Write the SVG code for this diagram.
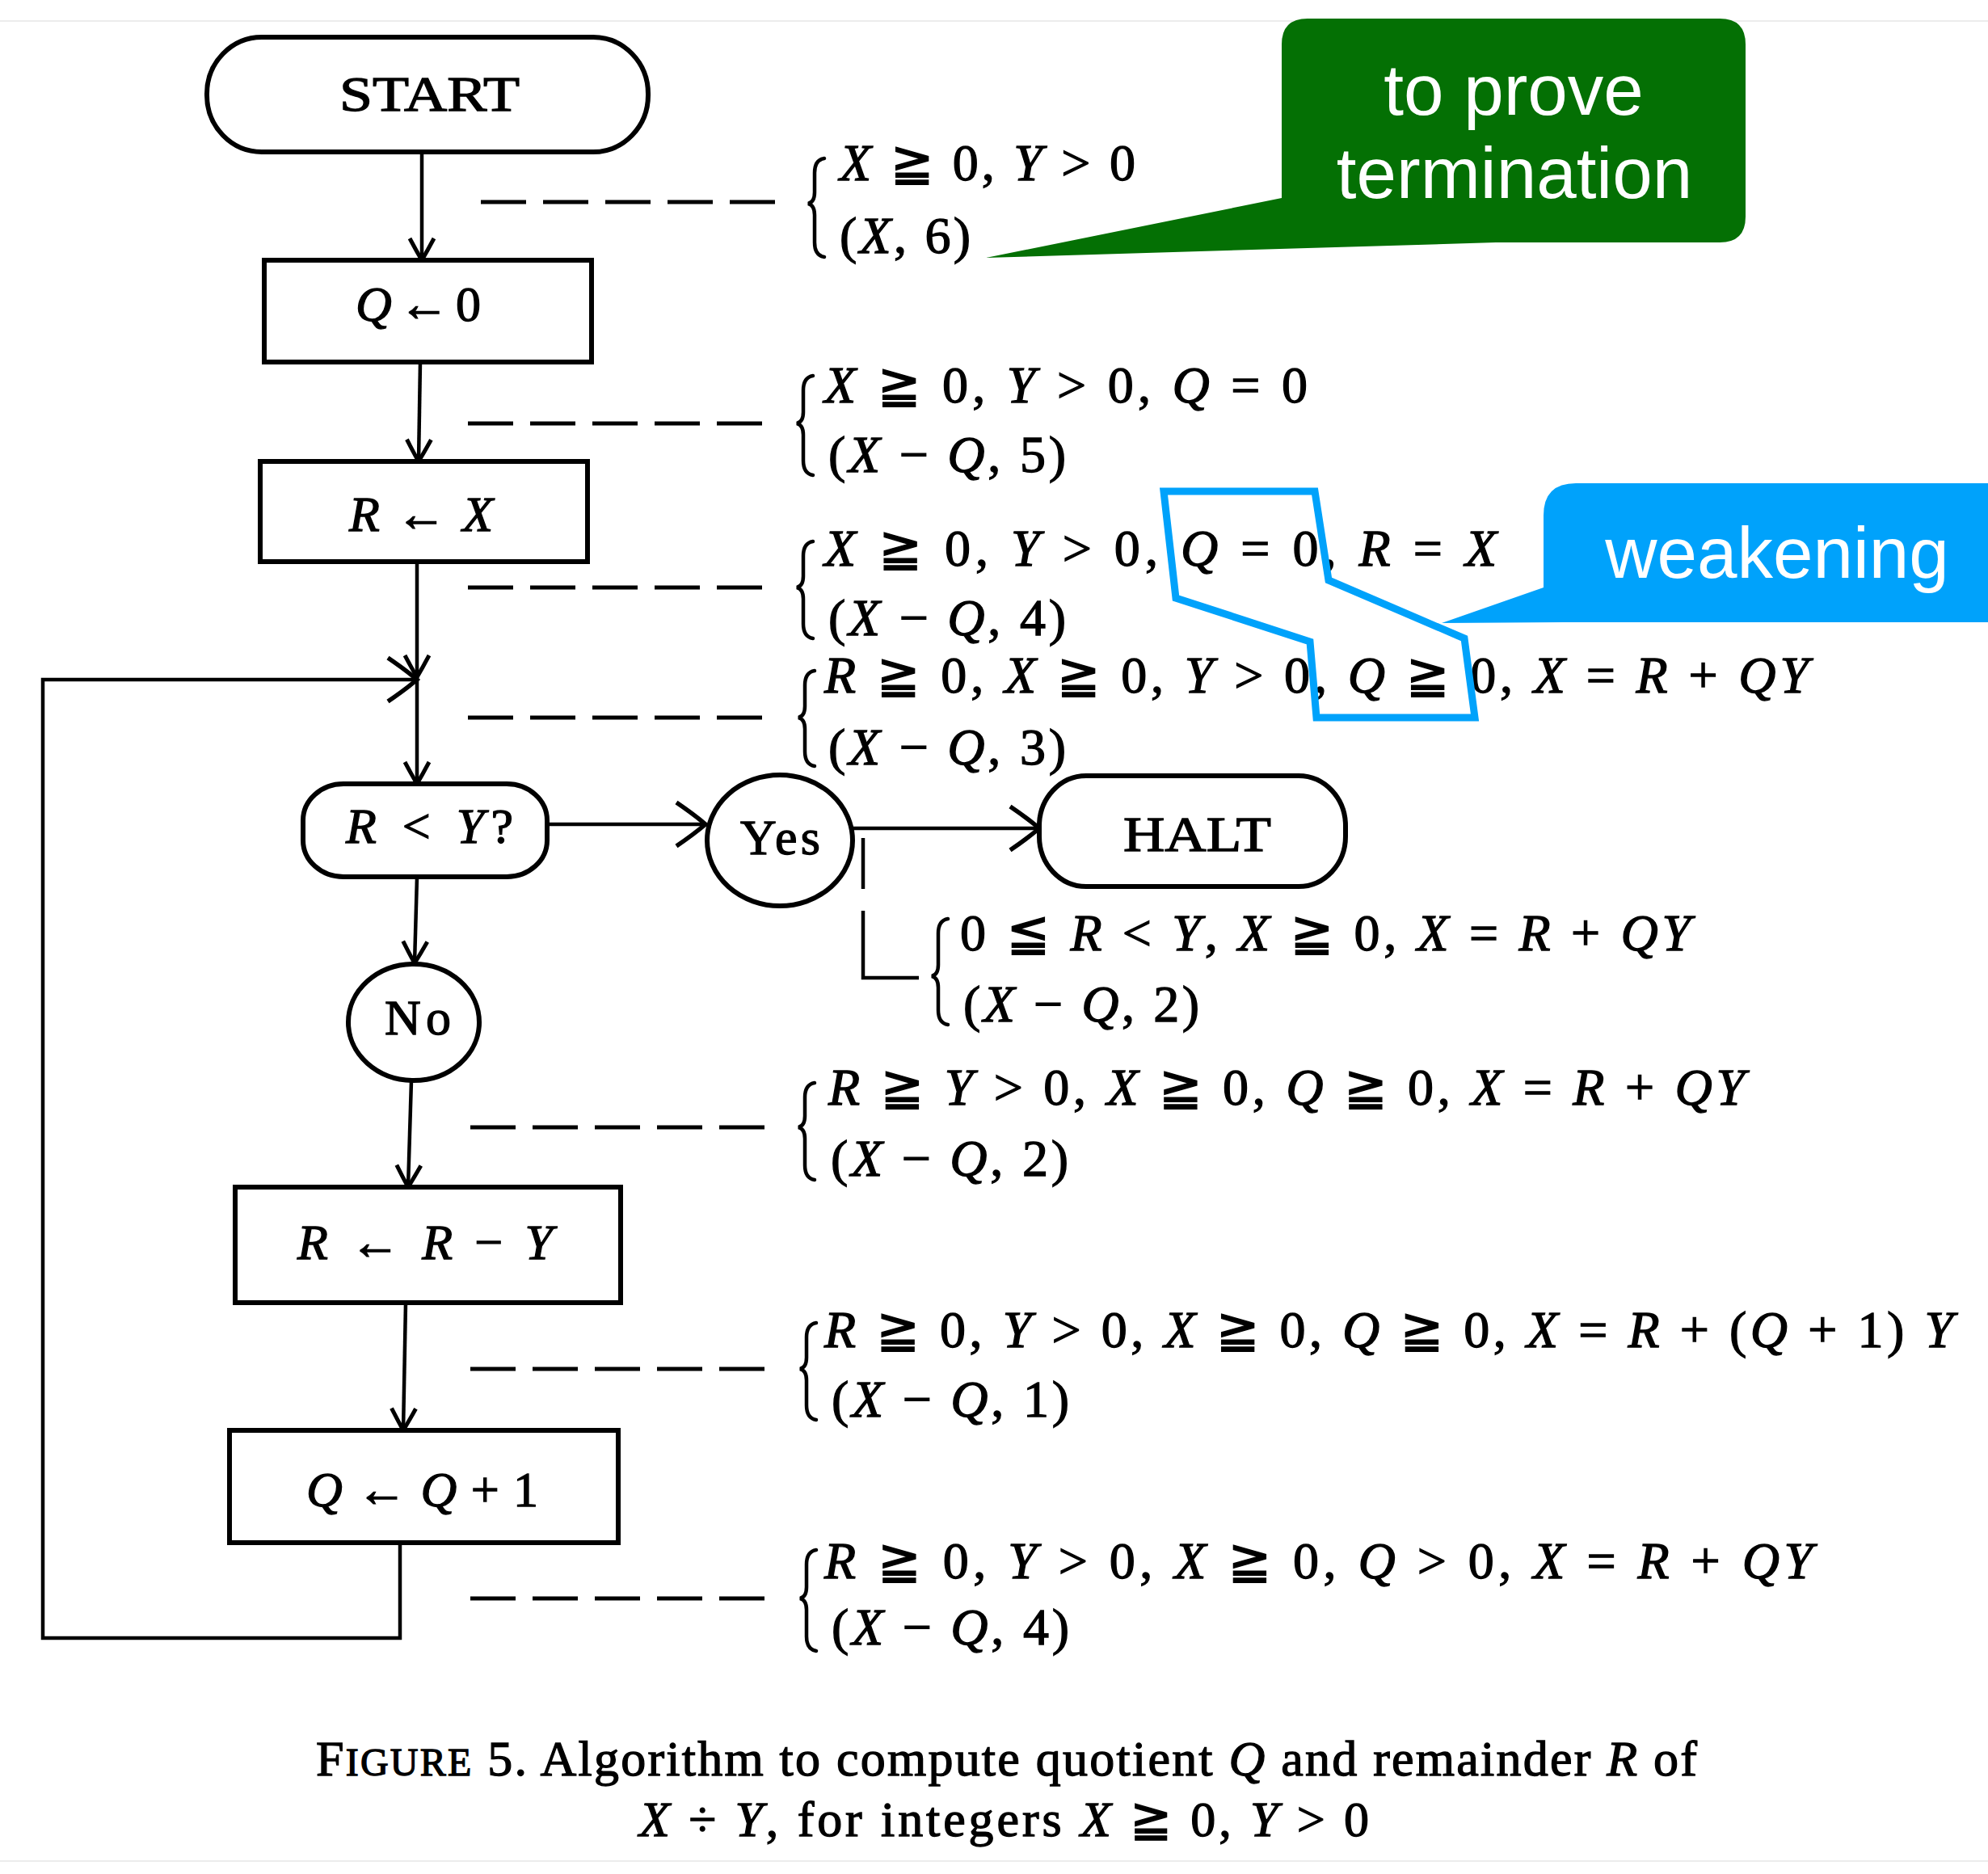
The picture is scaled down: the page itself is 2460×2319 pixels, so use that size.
<svg xmlns="http://www.w3.org/2000/svg" width="2460" height="2319" viewBox="0 0 2460 2319">
<style>
text{font-family:"Liberation Serif","DejaVu Serif","DejaVu Sans",serif;fill:#000;stroke:#000;stroke-width:1.3}
.lbl{font-size:62px}
.asr{font-size:64px}
.v{font-style:italic}
.shape{fill:#fff;stroke:#000;stroke-width:6}
.conn{fill:none;stroke:#000;stroke-width:4.5}
.dash{fill:none;stroke:#000;stroke-width:5;stroke-dasharray:56 21}
.brace{fill:none;stroke:#000;stroke-width:4.5;stroke-linecap:round}
.call{font-family:"Liberation Sans",Arial,sans-serif;font-size:89px;fill:#fff;stroke:none;text-anchor:middle}
</style>
<defs>
<marker id="ah" markerUnits="userSpaceOnUse" orient="auto" overflow="visible" markerWidth="1" markerHeight="1" refX="0" refY="0">
<path d="M-27,-15 Q-12,-7 0,0 Q-12,7 -27,15" fill="none" stroke="#000" stroke-width="5"/>
</marker>
<marker id="ahL" markerUnits="userSpaceOnUse" orient="auto" overflow="visible" markerWidth="1" markerHeight="1" refX="0" refY="0">
<path d="M-36,-27 Q-14,-12 0,0 Q-14,12 -36,27" fill="none" stroke="#000" stroke-width="5.5"/>
</marker>
</defs>
<rect width="2460" height="2319" fill="#fff"/>
<g id="frame-lines" stroke="#ececec" stroke-width="2">
<line x1="0" y1="26" x2="2460" y2="26"/>
<line x1="0" y1="2303" x2="2460" y2="2303"/>
</g>

<g id="connectors">
<line class="conn" x1="522" y1="188" x2="522" y2="322" marker-end="url(#ah)"/>
<line class="conn" x1="520" y1="448" x2="518" y2="571" marker-end="url(#ah)"/>
<line class="conn" x1="516" y1="695" x2="516" y2="838" marker-end="url(#ah)"/>
<line class="conn" x1="516" y1="838" x2="516" y2="970" marker-end="url(#ah)"/>
<path class="conn" d="M495,1909 V2027 H53 V841 H516" stroke-width="5.5" marker-end="url(#ahL)"/>
<line class="conn" x1="677" y1="1020" x2="873" y2="1020" stroke-width="6" marker-end="url(#ahL)"/>
<line class="conn" x1="1055" y1="1025" x2="1286" y2="1025" stroke-width="6" marker-end="url(#ahL)"/>
<line class="conn" x1="516" y1="1085" x2="513" y2="1192" marker-end="url(#ah)"/>
<line class="conn" x1="509" y1="1337" x2="505" y2="1469" marker-end="url(#ah)"/>
<line class="conn" x1="502" y1="1612" x2="499" y2="1770" marker-end="url(#ah)"/>
<path class="conn" d="M1068,1037 V1100 M1068,1127 V1210 H1137" stroke-width="3.5"/>
<line class="dash" x1="595" y1="250" x2="962" y2="250"/>
<line class="dash" x1="579" y1="524" x2="944" y2="524"/>
<line class="dash" x1="579" y1="727" x2="944" y2="727"/>
<line class="dash" x1="579" y1="888" x2="944" y2="888"/>
<line class="dash" x1="582" y1="1395" x2="951" y2="1395"/>
<line class="dash" x1="582" y1="1694" x2="951" y2="1694"/>
<line class="dash" x1="582" y1="1978" x2="951" y2="1978"/>
</g>

<g id="start">
<rect class="shape" x="256" y="46" width="546" height="142" rx="68" ry="70" stroke-width="7"/>
<text class="lbl" x="420" y="137" textLength="223" lengthAdjust="spacingAndGlyphs" font-size="64">START</text>
</g>
<g id="q-init">
<rect class="shape" x="327" y="322" width="405" height="126"/>
<text class="lbl" x="440" y="397" textLength="155" lengthAdjust="spacing"><tspan class="v">Q</tspan> ← 0</text>
</g>
<g id="r-init">
<rect class="shape" x="322" y="571" width="405" height="124"/>
<text class="lbl" x="432" y="657" textLength="178" lengthAdjust="spacing"><tspan class="v">R</tspan> ← <tspan class="v">X</tspan></text>
</g>
<g id="test">
<rect class="shape" x="375" y="970" width="302" height="115" rx="50" ry="45" stroke-width="7"/>
<text class="lbl" x="428" y="1043" textLength="207" lengthAdjust="spacing"><tspan class="v">R</tspan> &lt; <tspan class="v">Y</tspan>?</text>
</g>
<g id="yes">
<ellipse class="shape" cx="965" cy="1040" rx="90" ry="81"/>
<text class="lbl" x="916" y="1057" textLength="99" lengthAdjust="spacing">Yes</text>
</g>
<g id="halt">
<rect class="shape" x="1286" y="960" width="379" height="137" rx="58" ry="62" stroke-width="7"/>
<text class="lbl" x="1390" y="1053" textLength="183" lengthAdjust="spacingAndGlyphs" font-size="66">HALT</text>
</g>
<g id="no">
<ellipse class="shape" cx="512" cy="1265" rx="81" ry="72" stroke-width="7"/>
<text class="lbl" x="476" y="1280" textLength="82" lengthAdjust="spacing">No</text>
</g>
<g id="r-sub">
<rect class="shape" x="291" y="1469" width="477" height="143"/>
<text class="lbl" x="368" y="1558" textLength="316" lengthAdjust="spacing"><tspan class="v">R</tspan> ← <tspan class="v">R</tspan> − <tspan class="v">Y</tspan></text>
</g>
<g id="q-inc">
<rect class="shape" x="284" y="1770" width="481" height="139"/>
<text class="lbl" x="379" y="1864" textLength="287" lengthAdjust="spacing"><tspan class="v">Q</tspan> ← <tspan class="v">Q</tspan> + 1</text>
</g>

<g id="assertions">
<path class="brace" d="M1020,196 Q1008,198 1008,214 V238 Q1008,250 1000,252 Q1008,254 1008,266 V300 Q1008,316 1020,318"/>
<text class="asr" x="1039" y="223" textLength="366" lengthAdjust="spacing"><tspan class="v">X</tspan> ≧ 0, <tspan class="v">Y</tspan> &gt; 0</text>
<text class="asr" x="1039" y="313" textLength="162" lengthAdjust="spacing">(<tspan class="v">X</tspan>, 6)</text>

<path class="brace" d="M1006,465 Q994,467 994,483 V510 Q994,522 986,524 Q994,526 994,538 V570 Q994,586 1006,588"/>
<text class="asr" x="1020" y="498" textLength="598" lengthAdjust="spacing"><tspan class="v">X</tspan> ≧ 0,  <tspan class="v">Y</tspan> &gt; 0,  <tspan class="v">Q</tspan> = 0</text>
<text class="asr" x="1025" y="584" textLength="294" lengthAdjust="spacing">(<tspan class="v">X</tspan> − <tspan class="v">Q</tspan>, 5)</text>

<path class="brace" d="M1006,670 Q994,672 994,688 V713 Q994,725 986,727 Q994,729 994,741 V772 Q994,788 1006,790"/>
<text class="asr" x="1020" y="700" textLength="832" lengthAdjust="spacing"><tspan class="v">X</tspan> ≧ 0,  <tspan class="v">Y</tspan> &gt; 0,  <tspan class="v">Q</tspan> = 0,  <tspan class="v">R</tspan> = <tspan class="v">X</tspan></text>
<text class="asr" x="1025" y="786" textLength="294" lengthAdjust="spacing">(<tspan class="v">X</tspan> − <tspan class="v">Q</tspan>, 4)</text>

<path class="brace" d="M1008,830 Q996,832 996,848 V874 Q996,886 988,888 Q996,890 996,902 V930 Q996,946 1008,948"/>
<text class="asr" x="1020" y="857" textLength="1218" lengthAdjust="spacing"><tspan class="v">R</tspan> ≧ 0,  <tspan class="v">X</tspan> ≧ 0,  <tspan class="v">Y</tspan> &gt; 0,  <tspan class="v">Q</tspan> ≧ 0,  <tspan class="v">X</tspan> = <tspan class="v">R</tspan> + <tspan class="v">QY</tspan></text>
<text class="asr" x="1025" y="946" textLength="294" lengthAdjust="spacing">(<tspan class="v">X</tspan> − <tspan class="v">Q</tspan>, 3)</text>

<path class="brace" d="M1173,1137 Q1161,1139 1161,1155 V1194 Q1161,1206 1153,1208 Q1161,1210 1161,1222 V1250 Q1161,1266 1173,1268"/>
<text class="asr" x="1188" y="1176" textLength="904" lengthAdjust="spacing">0 ≦ <tspan class="v">R</tspan> &lt; <tspan class="v">Y</tspan>, <tspan class="v">X</tspan> ≧ 0, <tspan class="v">X</tspan> = <tspan class="v">R</tspan> + <tspan class="v">QY</tspan></text>
<text class="asr" x="1192" y="1264" textLength="292" lengthAdjust="spacing">(<tspan class="v">X</tspan> − <tspan class="v">Q</tspan>, 2)</text>

<path class="brace" d="M1008,1340 Q996,1342 996,1358 V1381 Q996,1393 988,1395 Q996,1397 996,1409 V1442 Q996,1458 1008,1460"/>
<text class="asr" x="1025" y="1367" textLength="1134" lengthAdjust="spacing"><tspan class="v">R</tspan> ≧ <tspan class="v">Y</tspan> &gt; 0,  <tspan class="v">X</tspan> ≧ 0,  <tspan class="v">Q</tspan> ≧ 0,  <tspan class="v">X</tspan> = <tspan class="v">R</tspan> + <tspan class="v">QY</tspan></text>
<text class="asr" x="1028" y="1455" textLength="294" lengthAdjust="spacing">(<tspan class="v">X</tspan> − <tspan class="v">Q</tspan>, 2)</text>

<path class="brace" d="M1010,1637 Q998,1639 998,1655 V1680 Q998,1692 990,1694 Q998,1696 998,1708 V1739 Q998,1755 1010,1757"/>
<text class="asr" x="1020" y="1667" textLength="1397" lengthAdjust="spacing"><tspan class="v">R</tspan> ≧ 0,  <tspan class="v">Y</tspan> &gt; 0,  <tspan class="v">X</tspan> ≧ 0,  <tspan class="v">Q</tspan> ≧ 0,  <tspan class="v">X</tspan> = <tspan class="v">R</tspan> + (<tspan class="v">Q</tspan> + 1) <tspan class="v">Y</tspan></text>
<text class="asr" x="1029" y="1753" textLength="294" lengthAdjust="spacing">(<tspan class="v">X</tspan> − <tspan class="v">Q</tspan>, 1)</text>

<path class="brace" d="M1010,1918 Q998,1920 998,1936 V1964 Q998,1976 990,1978 Q998,1980 998,1992 V2025 Q998,2041 1010,2043"/>
<text class="asr" x="1020" y="1953" textLength="1223" lengthAdjust="spacing"><tspan class="v">R</tspan> ≧ 0,  <tspan class="v">Y</tspan> &gt; 0,  <tspan class="v">X</tspan> ≧ 0,  <tspan class="v">Q</tspan> &gt; 0,  <tspan class="v">X</tspan> = <tspan class="v">R</tspan> + <tspan class="v">QY</tspan></text>
<text class="asr" x="1029" y="2035" textLength="294" lengthAdjust="spacing">(<tspan class="v">X</tspan> − <tspan class="v">Q</tspan>, 4)</text>
</g>

<g id="caption">
<text x="391" y="2197" font-size="62" textLength="1709" lengthAdjust="spacing">F<tspan font-size="48">IGURE</tspan> 5. Algorithm to compute quotient <tspan class="v">Q</tspan> and remainder <tspan class="v">R</tspan> of</text>
<text x="791" y="2272" font-size="62" textLength="903" lengthAdjust="spacing"><tspan class="v">X</tspan> ÷ <tspan class="v">Y</tspan>, for integers  <tspan class="v">X</tspan> ≧ 0, <tspan class="v">Y</tspan> &gt; 0</text>
</g>

<g id="callout-termination">
<path d="M1618,23 H2128 Q2160,23 2160,55 V268 Q2160,300 2128,300 H1851 L1220,319 L1586,245 V55 Q1586,23 1618,23 Z" fill="#047004"/>
<text class="call" x="1873" y="142">to prove</text>
<text class="call" x="1874" y="245">termination</text>
</g>

<g id="callout-weakening">
<path d="M1950,598 H2460 V770 H1935 L1784,771 L1910,727 V638 Q1910,598 1950,598 Z" fill="#00a2fb"/>
<text class="call" x="2199" y="715" font-size="88">weakening</text>
<polygon points="1440,608 1627,608 1644,718 1812,790 1825,888 1629,888 1621,794 1455,740" fill="none" stroke="#00a2fb" stroke-width="9"/>
</g>
</svg>
